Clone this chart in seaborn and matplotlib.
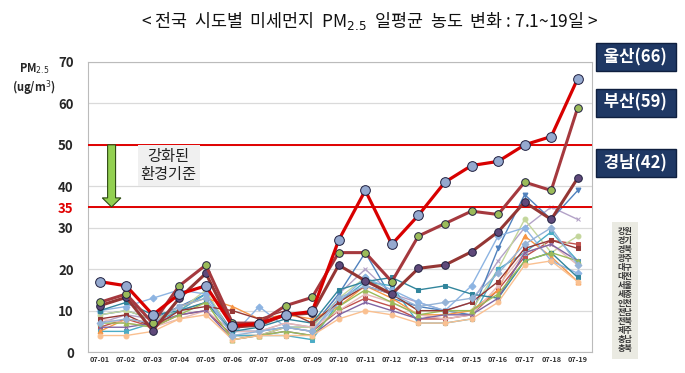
import matplotlib
matplotlib.use("Agg")
import matplotlib.pyplot as plt
from matplotlib.patches import FancyArrow
import seaborn as sns
import numpy as np
import pandas as pd

# --- data ---
dates = ['07-01', '07-02', '07-03', '07-04', '07-05', '07-06', '07-07', '07-08', '07-09', '07-10',
         '07-11', '07-12', '07-13', '07-14', '07-15', '07-16', '07-17', '07-18', '07-19']

ulsan = [17, 16, 9, 14, 16, 6.3, 6.9, 9, 9.8, 27, 39, 26, 33, 41, 45, 46, 50, 52, 66]
busan = [12, 14, 7, 16, 21, 7, 7, 11.2, 13.2, 24, 24, 17, 28, 31, 34, 33.2, 41, 39, 59]
gyeongnam = [11.2, 13.2, 5.2, 13, 19, 6, 6.5, 9, 9.4, 21, 17.2, 14, 20.2, 21, 24.2, 29, 36.2, 32, 42]

gangwon = [7, 9, 8, 10, 12, 5, 5, 7, 6, 14, 20, 14, 12, 10, 12, 22, 30, 35, 32]
gyeonggi = [9, 10, 8, 11, 14, 5, 5, 6, 6, 14, 24, 13, 11, 10, 9, 25, 38, 32, 39]
gyeongbuk = [6, 8, 6, 9, 10, 4, 4, 6, 5, 10, 13, 11, 8, 8, 9, 15, 23, 27, 26]
gwangju = [9, 10, 8, 10, 15, 4, 4, 6, 6, 13, 18, 14, 10, 10, 10, 20, 32, 24, 28]
daegu = [5, 5, 7, 10, 14, 4, 4, 4, 3, 12, 17, 16, 7, 7, 8, 20, 24, 29, 22]
daejeon = [5, 8, 7, 11, 13, 11, 8, 9, 8, 11, 16, 13, 9, 9, 10, 15, 28, 23, 17]
seoul = [10, 11, 13, 15, 14, 4, 11, 6, 5, 12, 18, 15, 12, 10, 16, 28, 30, 22, 19]
sejong = [8, 7, 6, 8, 10, 5, 5, 7, 6, 10, 14, 12, 9, 8, 9, 16, 24, 26, 21]
incheon = [10, 12, 9, 10, 12, 5, 6, 8, 7, 15, 17, 18, 15, 16, 14, 13, 22, 24, 18]
jeonnam = [6, 6, 7, 9, 10, 3, 4, 5, 4, 9, 12, 10, 8, 9, 9, 13, 24, 26, 22]
jeonbuk = [7, 7, 6, 9, 12, 3, 4, 5, 4, 11, 15, 12, 9, 10, 10, 14, 22, 24, 22]
jeju = [4, 4, 5, 8, 9, 3, 4, 4, 4, 8, 10, 9, 7, 7, 8, 12, 21, 22, 17]
chungnam = [8, 9, 6, 10, 11, 10, 8, 10, 7, 12, 16, 14, 10, 10, 12, 17, 25, 27, 25]
chungbuk = [7, 8, 7, 11, 13, 4, 5, 6, 5, 13, 16, 14, 11, 12, 13, 19, 26, 30, 21]

other_names = ['강원', '경기', '경북', '광주', '대구', '대전', '서울', '세종', '인천', '전남', '전북', '제주', '충남', '충북']
other_values = [gangwon, gyeonggi, gyeongbuk, gwangju, daegu, daejeon, seoul, sejong,
                incheon, jeonnam, jeonbuk, jeju, chungnam, chungbuk]

# --- style ---
sns.set_theme(style="white")
plt.rcParams['font.family'] = ['Noto Sans CJK KR', 'DejaVu Sans']
plt.rcParams['axes.unicode_minus'] = False

other_colors = ['#B3A2C7', '#4F81BD', '#C0504D', '#C3D69B', '#4BACC6', '#F79646', '#8DB4E2',
                '#E6B9B8', '#31859C', '#8064A2', '#9BBB59', '#FAC090', '#953735', '#95B3D7']
other_markers = ['x', 'v', 's', 'o', 's', '^', 'D', '*', 's', 'x', '^', 'o', 's', 'D']

x = np.arange(len(dates))

fig = plt.figure(figsize=(6.85, 3.73), dpi=100)
ax = fig.add_axes([0.128, 0.056, 0.736, 0.778])

for name, vals, c, m in zip(other_names, other_values, other_colors, other_markers):
    df = pd.DataFrame({'x': x, 'v': vals})
    sns.lineplot(data=df, x='x', y='v', ax=ax, color=c, linewidth=1.0, marker=m,
                 markersize=3.5, markeredgecolor=c, zorder=2)

highlight = [
    (gyeongnam, '#943634', '#5F497A', 5.5, 2.2),
    (busan, '#A5393E', '#9BBB59', 5.5, 2.2),
    (ulsan, '#D80000', '#95A9CF', 7, 2.3),
]
for vals, lc, mc, ms, lw in highlight:
    df = pd.DataFrame({'x': x, 'v': vals})
    sns.lineplot(data=df, x='x', y='v', ax=ax, color=lc, linewidth=lw, marker='o',
                 markersize=ms, markerfacecolor=mc, markeredgecolor='#1F1F3F',
                 markeredgewidth=0.7, zorder=4)

# reference lines
ax.axhline(50, color='#E00000', linewidth=1.4, zorder=3)
ax.axhline(35, color='#E00000', linewidth=1.4, zorder=3)

ax.add_patch(FancyArrow(0.45, 50, 0, -15, width=0.3, head_width=0.7, head_length=2.2,
                        length_includes_head=True, facecolor='#92D050', edgecolor='#2E4A14',
                        linewidth=0.8, zorder=5))
ax.text(2.6, 45, '강화된\n환경기준', ha='center', va='center', fontsize=11, color='#222222',
        linespacing=1.1, zorder=5,
        bbox=dict(boxstyle='square,pad=0.2', facecolor='#F0F0F0', edgecolor='none'))

ax.set_xlim(-0.45, 18.53)
ax.set_ylim(0, 70)
ax.set_xticks(x)
ax.set_xticklabels(dates, fontsize=5.3, fontweight='bold', color='#333333')
yt = [0, 10, 20, 30, 35, 40, 50, 60, 70]
ax.set_yticks(yt)
ax.set_yticklabels([str(v) for v in yt], fontsize=9.5, fontweight='bold')
for lab in ax.get_yticklabels():
    if lab.get_text() == '35':
        lab.set_color('#E00000')
ax.tick_params(axis='y', pad=10, length=0)
ax.tick_params(axis='x', pad=3, length=0)
ax.set_xlabel('')
ax.set_ylabel('')
ax.yaxis.grid(True, color='#DADADA', linewidth=0.9)
ax.xaxis.grid(False)
for s in ax.spines.values():
    s.set_color('#BBBBBB')
    s.set_linewidth(0.8)

# y-axis unit label
fig.text(0.05, 0.815, 'PM$_{2.5}$', ha='center', va='center', fontsize=8, fontweight='bold')
fig.text(0.05, 0.765, '(ug/m$^{3}$)', ha='center', va='center', fontsize=8, fontweight='bold')

# title
fig.text(0.54, 0.945, '< 전국  시도별  미세먼지  PM$_{2.5}$  일평균  농도  변화 : 7.1~19일 >',
         ha='center', va='center', fontsize=12.5, fontweight='medium', color='#111111')

# highlighted region labels
for label, yy in [('울산(66)', 0.847), ('부산(59)', 0.724), ('경남(42)', 0.563)]:
    fig.text(0.928, yy, ' ' + label + ' ', ha='center', va='center', fontsize=12, fontweight='bold',
             color='white',
             bbox=dict(boxstyle='square,pad=0.28', facecolor='#1F3864', edgecolor='#0F1F3F'))

# legend of the other regions
fig.text(0.912, 0.222, '\n'.join(other_names), ha='center', va='center', fontsize=5.8,
         fontweight='bold', color='#333333', linespacing=1.0,
         bbox=dict(boxstyle='square,pad=0.7', facecolor='#EAEAE2', edgecolor='none'))

fig.savefig('out.png', dpi=100)
